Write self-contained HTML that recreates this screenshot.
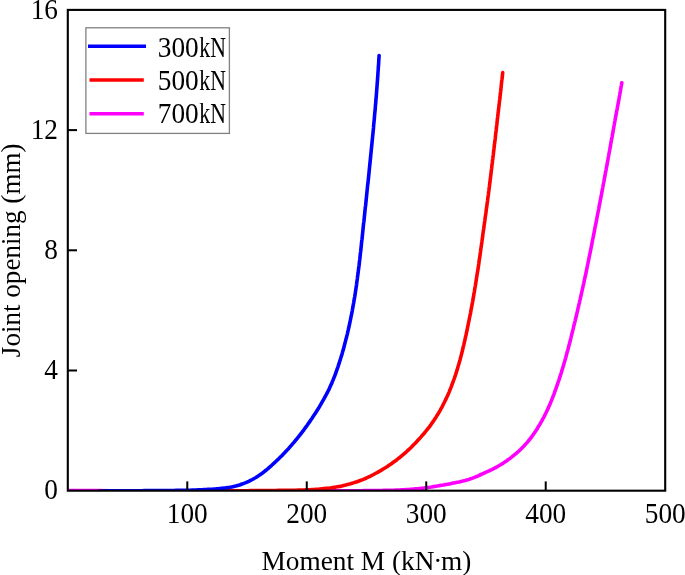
<!DOCTYPE html>
<html><head><meta charset="utf-8"><title>Joint opening vs Moment</title>
<style>
html,body{margin:0;padding:0;background:#fff;}
svg{display:block;}
text{font-family:"Liberation Serif","DejaVu Serif",serif;font-size:27.3px;fill:#000;}
</style></head><body>
<svg width="685" height="575" viewBox="0 0 685 575">
<rect x="0" y="0" width="685" height="575" fill="#fff"/>
<defs><clipPath id="plot"><rect x="67.8" y="9.9" width="597.40" height="480.80"/></clipPath></defs>
<g clip-path="url(#plot)" fill="none" stroke-width="3.6" stroke-linecap="round" stroke-linejoin="round">
<path d="M67.8,490.5 L96.0,490.5 L125.0,491.1 L125.8,491.0 L127.8,491.0 L129.8,491.0 L131.8,491.0 L133.8,491.0 L135.8,491.0 L137.8,491.0 L139.8,491.0 L141.8,491.0 L143.8,491.0 L145.8,491.0 L147.8,491.0 L149.8,491.0 L151.8,491.0 L153.8,491.0 L155.8,491.0 L157.8,491.0 L159.8,491.0 L161.8,491.0 L163.8,491.0 L165.8,491.0 L167.8,491.0 L169.8,491.0 L171.8,491.0 L173.8,491.0 L175.8,491.0 L177.8,491.0 L179.8,491.0 L181.8,491.0 L183.8,491.0 L185.8,491.0 L187.8,491.0 L189.8,491.0 L191.8,491.0 L193.8,491.0 L195.8,491.0 L197.8,491.0 L199.8,491.0 L201.8,491.0 L203.8,491.0 L205.8,491.0 L207.8,491.0 L209.8,491.0 L211.8,491.0 L213.8,491.0 L215.8,491.0 L217.8,491.0 L219.8,491.0 L221.8,491.0 L223.8,491.0 L225.8,491.0 L227.8,491.0 L229.8,491.0 L231.8,491.0 L233.8,491.0 L235.8,491.0 L237.8,491.0 L239.8,491.0 L241.8,491.0 L243.8,491.0 L245.8,491.0 L247.8,491.0 L249.8,491.0 L251.8,491.0 L253.8,491.0 L255.8,491.0 L257.8,491.0 L259.8,491.0 L261.8,490.9 L263.8,490.9 L265.8,490.9 L267.8,490.9 L269.8,490.9 L271.8,490.9 L273.8,490.9 L275.8,490.9 L277.8,490.9 L279.8,490.9 L281.8,490.9 L283.8,490.9 L285.8,490.9 L287.8,490.9 L289.8,490.9 L291.8,490.9 L293.8,490.9 L295.8,490.9 L297.8,490.9 L299.8,490.9 L301.8,490.9 L303.8,490.9 L305.8,490.9 L307.8,490.9 L309.8,490.9 L311.8,490.8 L313.8,490.8 L315.8,490.8 L317.8,490.8 L319.8,490.8 L321.8,490.8 L323.8,490.8 L325.8,490.8 L327.8,490.8 L329.8,490.8 L331.8,490.8 L333.8,490.8 L335.8,490.8 L337.8,490.8 L339.8,490.8 L341.8,490.8 L343.8,490.8 L345.8,490.7 L347.8,490.7 L349.8,490.7 L351.8,490.7 L353.8,490.7 L355.8,490.7 L357.8,490.7 L359.8,490.7 L361.8,490.7 L363.8,490.6 L365.8,490.6 L367.8,490.6 L369.8,490.6 L371.8,490.6 L373.8,490.6 L375.8,490.5 L377.8,490.5 L379.8,490.5 L381.8,490.5 L383.8,490.4 L385.8,490.4 L387.8,490.4 L389.8,490.3 L391.8,490.3 L393.8,490.2 L395.8,490.1 L397.8,490.1 L399.8,490.0 L401.8,489.9 L403.8,489.8 L405.8,489.6 L407.8,489.5 L409.8,489.4 L411.8,489.2 L413.8,489.0 L415.7,488.8 L417.7,488.7 L419.7,488.5 L421.7,488.3 L423.7,488.1 L425.7,487.8 L427.7,487.5 L429.7,487.3 L431.6,487.0 L433.6,486.6 L435.6,486.3 L437.5,486.0 L439.5,485.6 L441.5,485.3 L443.5,485.0 L445.4,484.6 L447.4,484.3 L449.4,483.9 L451.3,483.5 L453.3,483.1 L455.3,482.7 L457.2,482.3 L459.2,481.9 L461.1,481.4 L463.0,481.0 L465.0,480.5 L466.9,479.9 L468.8,479.4 L470.7,478.7 L472.6,478.1 L474.5,477.4 L476.3,476.6 L478.2,475.8 L480.0,475.0 L481.8,474.2 L483.6,473.3 L485.4,472.5 L487.2,471.6 L489.1,470.8 L490.9,470.0 L492.7,469.1 L494.5,468.2 L496.2,467.3 L498.0,466.3 L499.7,465.3 L501.4,464.3 L503.1,463.2 L504.8,462.1 L506.4,461.0 L508.0,459.8 L509.7,458.6 L511.3,457.4 L512.8,456.2 L514.4,454.9 L515.9,453.7 L517.4,452.3 L518.9,451.0 L520.4,449.6 L521.8,448.2 L523.2,446.8 L524.6,445.3 L525.9,443.9 L527.2,442.4 L528.5,440.8 L529.8,439.3 L531.0,437.7 L532.2,436.1 L533.3,434.5 L534.5,432.8 L535.6,431.2 L536.7,429.5 L537.7,427.8 L538.8,426.1 L539.8,424.4 L540.8,422.6 L541.8,420.9 L542.7,419.1 L543.7,417.4 L544.6,415.6 L545.5,413.8 L546.4,412.0 L547.2,410.2 L548.1,408.4 L548.9,406.6 L549.7,404.7 L550.5,402.9 L551.2,401.1 L552.0,399.2 L552.7,397.3 L553.5,395.5 L554.2,393.6 L554.8,391.7 L555.5,389.8 L556.2,388.0 L556.8,386.1 L557.5,384.2 L558.1,382.3 L558.8,380.4 L559.4,378.5 L560.0,376.6 L560.6,374.7 L561.3,372.8 L561.8,370.9 L562.4,369.0 L563.0,367.0 L563.6,365.1 L564.1,363.2 L564.7,361.3 L565.2,359.4 L565.8,357.4 L566.3,355.5 L566.8,353.6 L567.3,351.6 L567.9,349.7 L568.4,347.8 L568.9,345.8 L569.4,343.9 L569.9,342.0 L570.4,340.0 L570.9,338.1 L571.3,336.2 L571.8,334.2 L572.3,332.3 L572.8,330.3 L573.3,328.4 L573.7,326.4 L574.2,324.5 L574.7,322.6 L575.2,320.6 L575.6,318.7 L576.1,316.7 L576.6,314.8 L577.0,312.8 L577.5,310.9 L577.9,308.9 L578.4,307.0 L578.8,305.0 L579.3,303.1 L579.7,301.1 L580.2,299.2 L580.6,297.2 L581.1,295.3 L581.5,293.3 L581.9,291.4 L582.4,289.4 L582.8,287.5 L583.2,285.5 L583.7,283.6 L584.1,281.6 L584.5,279.7 L584.9,277.7 L585.4,275.8 L585.8,273.8 L586.2,271.8 L586.6,269.9 L587.0,267.9 L587.4,266.0 L587.8,264.0 L588.2,262.1 L588.6,260.1 L589.0,258.1 L589.4,256.2 L589.8,254.2 L590.2,252.3 L590.6,250.3 L591.0,248.3 L591.4,246.4 L591.8,244.4 L592.1,242.4 L592.5,240.5 L592.9,238.5 L593.3,236.6 L593.7,234.6 L594.1,232.6 L594.5,230.7 L594.8,228.7 L595.2,226.7 L595.6,224.8 L596.0,222.8 L596.4,220.9 L596.8,218.9 L597.1,216.9 L597.5,215.0 L597.9,213.0 L598.3,211.0 L598.7,209.1 L599.0,207.1 L599.4,205.1 L599.8,203.2 L600.2,201.2 L600.5,199.3 L600.9,197.3 L601.3,195.3 L601.7,193.4 L602.0,191.4 L602.4,189.4 L602.8,187.5 L603.1,185.5 L603.5,183.5 L603.9,181.6 L604.2,179.6 L604.6,177.6 L605.0,175.7 L605.3,173.7 L605.7,171.7 L606.1,169.8 L606.4,167.8 L606.8,165.8 L607.2,163.9 L607.5,161.9 L607.9,159.9 L608.2,158.0 L608.6,156.0 L608.9,154.0 L609.3,152.1 L609.7,150.1 L610.0,148.1 L610.4,146.2 L610.7,144.2 L611.1,142.2 L611.4,140.3 L611.8,138.3 L612.2,136.3 L612.5,134.3 L612.9,132.4 L613.2,130.4 L613.6,128.4 L613.9,126.5 L614.3,124.5 L614.6,122.5 L615.0,120.6 L615.3,118.6 L615.7,116.6 L616.1,114.7 L616.4,112.7 L616.8,110.7 L617.2,108.8 L617.5,106.8 L617.9,104.8 L618.3,102.9 L618.6,100.9 L619.0,98.9 L619.3,97.0 L619.7,95.0 L620.0,93.0 L620.4,91.1 L620.7,89.1 L621.0,87.2 L621.4,85.3 L621.7,83.2 L621.8,82.8" stroke="#ff00ff"/>
<path d="M100.0,491.1 L102.1,491.0 L104.1,491.0 L106.1,491.0 L108.0,491.0 L110.0,491.0 L112.0,491.0 L114.0,491.0 L116.0,491.0 L118.0,490.9 L120.0,490.9 L122.0,490.9 L124.0,490.9 L126.0,490.9 L128.0,490.9 L130.0,490.9 L132.0,490.9 L134.0,490.8 L136.0,490.8 L138.0,490.8 L140.0,490.8 L142.0,490.8 L144.0,490.8 L146.0,490.8 L148.0,490.8 L150.0,490.8 L152.0,490.8 L154.0,490.8 L156.0,490.8 L158.0,490.7 L160.0,490.7 L162.0,490.7 L164.0,490.7 L166.0,490.7 L168.0,490.7 L170.0,490.7 L172.0,490.7 L174.0,490.7 L176.0,490.7 L178.0,490.7 L180.0,490.7 L182.0,490.7 L184.0,490.7 L186.0,490.7 L188.0,490.7 L190.0,490.7 L192.0,490.7 L194.0,490.7 L196.0,490.7 L198.0,490.7 L200.0,490.7 L202.0,490.7 L204.0,490.7 L206.0,490.7 L208.0,490.7 L210.0,490.7 L212.0,490.7 L214.0,490.7 L216.0,490.7 L218.0,490.7 L220.0,490.7 L222.0,490.7 L224.0,490.7 L226.0,490.7 L228.0,490.7 L230.0,490.7 L232.0,490.7 L234.0,490.7 L236.0,490.7 L238.0,490.7 L240.0,490.7 L242.0,490.7 L244.0,490.7 L246.0,490.7 L248.0,490.7 L250.0,490.6 L252.0,490.6 L254.0,490.6 L256.0,490.6 L258.0,490.6 L260.0,490.6 L262.0,490.6 L264.0,490.6 L266.0,490.6 L268.0,490.5 L270.0,490.5 L272.0,490.5 L274.0,490.5 L276.0,490.5 L278.0,490.4 L280.0,490.4 L282.0,490.4 L284.0,490.4 L286.0,490.3 L288.0,490.3 L290.0,490.3 L292.0,490.3 L294.0,490.2 L296.0,490.2 L298.0,490.1 L300.0,490.1 L302.0,490.0 L304.0,490.0 L306.0,489.9 L308.0,489.8 L310.0,489.7 L312.0,489.6 L314.0,489.5 L316.0,489.3 L318.0,489.2 L320.0,489.0 L322.0,488.8 L323.9,488.6 L325.9,488.4 L327.9,488.2 L329.9,488.0 L331.9,487.7 L333.9,487.4 L335.8,487.1 L337.8,486.7 L339.8,486.4 L341.7,486.0 L343.7,485.5 L345.6,485.1 L347.6,484.6 L349.5,484.1 L351.4,483.5 L353.3,482.9 L355.2,482.3 L357.1,481.7 L359.0,481.0 L360.9,480.3 L362.7,479.6 L364.6,478.8 L366.4,478.0 L368.2,477.1 L370.0,476.3 L371.8,475.4 L373.6,474.5 L375.3,473.5 L377.1,472.6 L378.8,471.6 L380.6,470.6 L382.3,469.6 L384.0,468.5 L385.7,467.5 L387.4,466.4 L389.0,465.3 L390.7,464.2 L392.3,463.0 L394.0,461.8 L395.6,460.7 L397.2,459.5 L398.7,458.2 L400.3,457.0 L401.9,455.7 L403.4,454.4 L404.9,453.1 L406.4,451.8 L407.9,450.4 L409.3,449.1 L410.8,447.7 L412.2,446.3 L413.6,444.8 L415.0,443.4 L416.4,442.0 L417.7,440.5 L419.1,439.0 L420.4,437.6 L421.7,436.1 L423.1,434.6 L424.4,433.0 L425.6,431.5 L426.9,429.9 L428.1,428.4 L429.4,426.8 L430.6,425.2 L431.7,423.6 L432.9,421.9 L434.0,420.3 L435.1,418.6 L436.2,416.9 L437.2,415.2 L438.3,413.5 L439.3,411.8 L440.3,410.1 L441.2,408.3 L442.2,406.6 L443.1,404.8 L444.0,403.0 L444.9,401.2 L445.8,399.4 L446.6,397.6 L447.5,395.8 L448.3,394.0 L449.1,392.1 L449.8,390.3 L450.6,388.4 L451.3,386.6 L452.0,384.7 L452.7,382.8 L453.4,380.9 L454.1,379.0 L454.7,377.2 L455.4,375.3 L456.0,373.4 L456.6,371.5 L457.2,369.5 L457.8,367.6 L458.3,365.7 L458.9,363.8 L459.4,361.9 L460.0,359.9 L460.5,358.0 L461.0,356.1 L461.5,354.1 L462.0,352.2 L462.5,350.3 L462.9,348.3 L463.4,346.4 L463.9,344.4 L464.3,342.5 L464.8,340.5 L465.2,338.6 L465.6,336.6 L466.1,334.7 L466.5,332.7 L466.9,330.8 L467.3,328.8 L467.7,326.8 L468.1,324.9 L468.5,322.9 L468.9,321.0 L469.3,319.0 L469.7,317.0 L470.1,315.1 L470.5,313.1 L470.8,311.2 L471.2,309.2 L471.6,307.2 L471.9,305.3 L472.3,303.3 L472.7,301.3 L473.0,299.3 L473.4,297.4 L473.7,295.4 L474.0,293.4 L474.4,291.5 L474.7,289.5 L475.0,287.5 L475.4,285.5 L475.7,283.6 L476.0,281.6 L476.3,279.6 L476.6,277.6 L476.9,275.7 L477.2,273.7 L477.6,271.7 L477.9,269.7 L478.2,267.8 L478.5,265.8 L478.8,263.8 L479.0,261.8 L479.3,259.9 L479.6,257.9 L479.9,255.9 L480.2,253.9 L480.5,251.9 L480.7,250.0 L481.0,248.0 L481.3,246.0 L481.6,244.0 L481.9,242.0 L482.1,240.0 L482.4,238.1 L482.7,236.1 L482.9,234.1 L483.2,232.1 L483.5,230.1 L483.8,228.2 L484.0,226.2 L484.3,224.2 L484.6,222.2 L484.9,220.2 L485.1,218.3 L485.4,216.3 L485.7,214.3 L486.0,212.3 L486.2,210.3 L486.5,208.3 L486.8,206.4 L487.0,204.4 L487.3,202.4 L487.6,200.4 L487.8,198.4 L488.1,196.5 L488.4,194.5 L488.6,192.5 L488.9,190.5 L489.1,188.5 L489.4,186.5 L489.6,184.6 L489.9,182.6 L490.1,180.6 L490.4,178.6 L490.6,176.6 L490.9,174.6 L491.1,172.6 L491.3,170.7 L491.6,168.7 L491.8,166.7 L492.0,164.7 L492.3,162.7 L492.5,160.7 L492.8,158.7 L493.0,156.8 L493.3,154.8 L493.5,152.8 L493.7,150.8 L494.0,148.8 L494.2,146.8 L494.4,144.8 L494.7,142.9 L494.9,140.9 L495.2,138.9 L495.4,136.9 L495.6,134.9 L495.8,132.9 L496.1,130.9 L496.3,129.0 L496.5,127.0 L496.8,125.0 L497.0,123.0 L497.2,121.0 L497.4,119.0 L497.7,117.0 L497.9,115.0 L498.1,113.1 L498.4,111.1 L498.6,109.1 L498.8,107.1 L499.1,105.1 L499.3,103.1 L499.5,101.1 L499.8,99.2 L500.0,97.2 L500.2,95.2 L500.4,93.2 L500.7,91.2 L500.9,89.2 L501.1,87.2 L501.3,85.2 L501.5,83.3 L501.7,81.3 L502.0,79.3 L502.2,77.4 L502.4,75.5 L502.6,73.4 L502.7,72.6" stroke="#ff0000"/>
<path d="M100.0,491.1 L102.1,491.0 L104.1,491.0 L106.1,490.9 L108.0,490.9 L110.0,490.9 L112.0,490.8 L114.0,490.8 L116.0,490.8 L118.0,490.7 L120.0,490.7 L122.0,490.7 L124.0,490.7 L126.0,490.7 L128.0,490.7 L130.0,490.7 L132.0,490.7 L134.0,490.7 L136.0,490.7 L138.0,490.7 L140.0,490.7 L142.0,490.7 L144.0,490.6 L146.0,490.6 L148.0,490.6 L150.0,490.6 L152.0,490.6 L154.0,490.6 L156.0,490.6 L158.0,490.6 L160.0,490.6 L162.0,490.6 L164.0,490.5 L166.0,490.5 L168.0,490.5 L170.0,490.5 L172.0,490.5 L174.0,490.5 L176.0,490.4 L178.0,490.4 L180.0,490.4 L182.0,490.4 L184.0,490.3 L186.0,490.3 L188.0,490.2 L190.0,490.2 L192.0,490.1 L194.0,490.0 L196.0,490.0 L198.0,489.9 L200.0,489.8 L202.0,489.7 L204.0,489.6 L206.0,489.5 L208.0,489.4 L210.0,489.3 L212.0,489.2 L214.0,489.0 L216.0,488.9 L218.0,488.7 L219.9,488.5 L221.9,488.3 L223.9,488.1 L225.9,487.9 L227.9,487.6 L229.9,487.3 L231.8,486.9 L233.8,486.5 L235.7,486.1 L237.6,485.5 L239.6,485.0 L241.4,484.3 L243.3,483.6 L245.2,482.9 L247.0,482.1 L248.8,481.3 L250.6,480.4 L252.4,479.5 L254.1,478.5 L255.9,477.5 L257.5,476.4 L259.2,475.3 L260.8,474.2 L262.5,473.0 L264.0,471.8 L265.6,470.5 L267.1,469.3 L268.7,468.0 L270.2,466.6 L271.7,465.3 L273.1,464.0 L274.6,462.6 L276.1,461.2 L277.5,459.9 L279.0,458.5 L280.4,457.1 L281.8,455.7 L283.2,454.2 L284.6,452.8 L286.0,451.3 L287.3,449.9 L288.7,448.4 L290.0,446.9 L291.3,445.4 L292.6,443.9 L293.9,442.4 L295.2,440.8 L296.5,439.3 L297.8,437.7 L299.0,436.2 L300.2,434.6 L301.5,433.0 L302.7,431.4 L303.9,429.8 L305.0,428.2 L306.2,426.6 L307.4,425.0 L308.5,423.3 L309.7,421.7 L310.8,420.0 L311.9,418.4 L313.0,416.7 L314.1,415.1 L315.2,413.4 L316.3,411.7 L317.4,410.0 L318.5,408.3 L319.5,406.6 L320.5,404.9 L321.5,403.2 L322.5,401.4 L323.5,399.7 L324.5,397.9 L325.4,396.2 L326.4,394.4 L327.3,392.6 L328.2,390.9 L329.1,389.1 L329.9,387.3 L330.7,385.4 L331.6,383.6 L332.3,381.8 L333.1,379.9 L333.8,378.1 L334.6,376.2 L335.3,374.3 L336.0,372.5 L336.6,370.6 L337.3,368.7 L338.0,366.8 L338.6,364.9 L339.2,363.0 L339.8,361.1 L340.4,359.2 L341.0,357.3 L341.6,355.4 L342.2,353.4 L342.7,351.5 L343.3,349.6 L343.8,347.7 L344.3,345.7 L344.8,343.8 L345.3,341.9 L345.8,339.9 L346.3,338.0 L346.8,336.1 L347.3,334.1 L347.7,332.2 L348.2,330.2 L348.6,328.3 L349.1,326.3 L349.5,324.4 L349.9,322.4 L350.3,320.5 L350.7,318.5 L351.1,316.5 L351.5,314.6 L351.9,312.6 L352.3,310.6 L352.6,308.7 L353.0,306.7 L353.3,304.7 L353.7,302.8 L354.0,300.8 L354.3,298.8 L354.7,296.8 L355.0,294.9 L355.3,292.9 L355.6,290.9 L355.9,288.9 L356.2,287.0 L356.5,285.0 L356.7,283.0 L357.0,281.0 L357.3,279.0 L357.5,277.1 L357.8,275.1 L358.1,273.1 L358.3,271.1 L358.6,269.1 L358.8,267.1 L359.1,265.2 L359.3,263.2 L359.5,261.2 L359.8,259.2 L360.0,257.2 L360.2,255.2 L360.4,253.2 L360.7,251.2 L360.9,249.3 L361.1,247.3 L361.3,245.3 L361.5,243.3 L361.7,241.3 L362.0,239.3 L362.2,237.3 L362.4,235.3 L362.6,233.4 L362.8,231.4 L363.0,229.4 L363.2,227.4 L363.4,225.4 L363.6,223.4 L363.9,221.4 L364.1,219.4 L364.3,217.4 L364.5,215.5 L364.7,213.5 L364.9,211.5 L365.1,209.5 L365.3,207.5 L365.6,205.5 L365.8,203.5 L366.0,201.5 L366.2,199.5 L366.4,197.6 L366.6,195.6 L366.8,193.6 L367.0,191.6 L367.2,189.6 L367.4,187.6 L367.6,185.6 L367.9,183.6 L368.1,181.6 L368.3,179.7 L368.5,177.7 L368.7,175.7 L368.9,173.7 L369.1,171.7 L369.3,169.7 L369.5,167.7 L369.7,165.7 L369.9,163.7 L370.1,161.7 L370.3,159.8 L370.5,157.8 L370.7,155.8 L370.9,153.8 L371.1,151.8 L371.3,149.8 L371.5,147.8 L371.7,145.8 L371.9,143.8 L372.1,141.8 L372.3,139.9 L372.5,137.9 L372.7,135.9 L372.9,133.9 L373.1,131.9 L373.3,129.9 L373.5,127.9 L373.6,125.9 L373.8,123.9 L374.0,121.9 L374.2,119.9 L374.4,118.0 L374.5,116.0 L374.7,114.0 L374.9,112.0 L375.1,110.0 L375.3,108.0 L375.4,106.0 L375.6,104.0 L375.8,102.0 L375.9,100.0 L376.1,98.0 L376.3,96.0 L376.4,94.0 L376.6,92.0 L376.7,90.1 L376.9,88.1 L377.0,86.1 L377.2,84.1 L377.3,82.1 L377.5,80.1 L377.6,78.1 L377.8,76.1 L377.9,74.1 L378.0,72.1 L378.2,70.1 L378.3,68.1 L378.4,66.1 L378.6,64.1 L378.7,62.2 L378.8,60.2 L378.9,58.3 L379.1,56.2 L379.1,55.5" stroke="#0000ff"/>
</g>
<rect x="67.8" y="9.9" width="597.40" height="480.80" fill="none" stroke="#000" stroke-width="2.1"/>
<g stroke="#000" stroke-width="2" fill="none">
<line x1="187.28" y1="490.7" x2="187.28" y2="481.40"/>
<line x1="306.76" y1="490.7" x2="306.76" y2="481.40"/>
<line x1="426.24" y1="490.7" x2="426.24" y2="481.40"/>
<line x1="545.72" y1="490.7" x2="545.72" y2="481.40"/>
<line x1="67.8" y1="370.50" x2="77.00" y2="370.50"/>
<line x1="67.8" y1="250.30" x2="77.00" y2="250.30"/>
<line x1="67.8" y1="130.10" x2="77.00" y2="130.10"/>
</g>
<text transform="translate(187.28,522.9) scale(1,1.055)" text-anchor="middle">100</text>
<text transform="translate(306.76,522.9) scale(1,1.055)" text-anchor="middle">200</text>
<text transform="translate(426.24,522.9) scale(1,1.055)" text-anchor="middle">300</text>
<text transform="translate(545.72,522.9) scale(1,1.055)" text-anchor="middle">400</text>
<text transform="translate(665.20,522.9) scale(1,1.055)" text-anchor="middle">500</text>
<text transform="translate(58,499.4) scale(1,1.055)" text-anchor="end">0</text>
<text transform="translate(58,379.2) scale(1,1.055)" text-anchor="end">4</text>
<text transform="translate(58,259.0) scale(1,1.055)" text-anchor="end">8</text>
<text transform="translate(58,138.8) scale(1,1.055)" text-anchor="end">12</text>
<text transform="translate(58,18.6) scale(1,1.055)" text-anchor="end">16</text>
<text x="366.4" y="570.0" text-anchor="middle">Moment M (kN<tspan dx="-1.3">·</tspan><tspan dx="-1.3">m)</tspan></text>
<text transform="translate(20.0,250.3) rotate(-90)" text-anchor="middle" style="font-size:27.1px">Joint opening (mm)</text>
<rect x="85.9" y="27.8" width="143.5" height="105.6" fill="#fff" stroke="#808080" stroke-width="1.3"/>
<line x1="88" y1="46.20" x2="146" y2="46.20" stroke="#0000ff" stroke-width="3.6"/>
<text transform="translate(157.8,56.5) scale(1,1.055)">300<tspan dx="0.6" textLength="26.6" lengthAdjust="spacingAndGlyphs">kN</tspan></text>
<line x1="89.5" y1="79.95" x2="143.8" y2="79.95" stroke="#ff0000" stroke-width="3.6"/>
<text transform="translate(157.8,89.8) scale(1,1.055)">500<tspan dx="0.6" textLength="26.6" lengthAdjust="spacingAndGlyphs">kN</tspan></text>
<line x1="89.5" y1="113.70" x2="143.8" y2="113.70" stroke="#ff00ff" stroke-width="3.6"/>
<text transform="translate(157.8,123.1) scale(1,1.055)">700<tspan dx="0.6" textLength="26.6" lengthAdjust="spacingAndGlyphs">kN</tspan></text>
</svg>
</body></html>
